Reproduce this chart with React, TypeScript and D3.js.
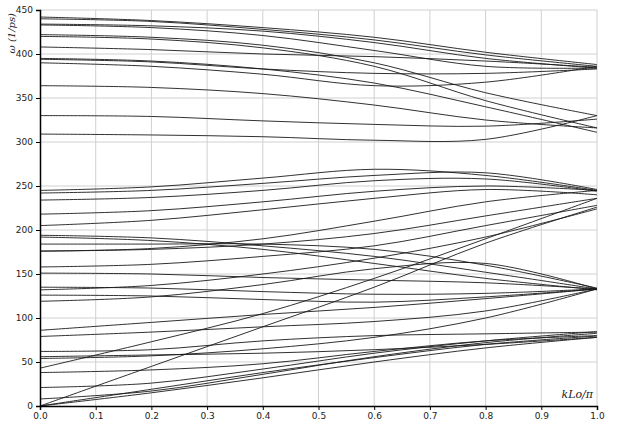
import React, { useEffect, useRef } from 'react';
import * as d3 from 'd3';

// wave number samples (k Lo / pi)
const kPoints = [0, 0.2, 0.4, 0.6, 0.8, 1.0];

// optical branches above the gap
const highBranches = [
  [442, 438, 430, 419, 402, 388],
  [440, 437, 428, 416, 399, 386],
  [434, 432, 426, 413, 395, 384],
  [433, 430, 421, 404, 386, 384],
  [422, 419, 410, 390, 356, 330],
  [420, 417, 407, 386, 347, 316],
  [408, 405, 400, 397, 392, 385],
  [395, 392, 383, 367, 340, 311],
  [394, 391, 383, 378, 378, 383],
  [390, 386, 377, 364, 368, 386],
  [364, 362, 355, 342, 325, 316],
  [330, 329, 324, 320, 318, 326],
  [309, 308, 306, 302, 303, 330]
];

// middle group of branches
const midBranches = [
  [245, 249, 259, 269, 262, 245],
  [242, 245, 253, 262, 265, 246],
  [234, 237, 245, 256, 258, 244],
  [218, 222, 232, 244, 250, 245],
  [205, 211, 223, 236, 246, 240],
  [194, 191, 182, 170, 152, 133],
  [192, 188, 178, 162, 145, 132],
  [184, 184, 184, 178, 160, 134],
  [176, 179, 190, 210, 232, 245],
  [176, 178, 184, 196, 216, 236],
  [158, 161, 170, 182, 205, 228],
  [151, 150, 146, 143, 140, 133],
  [135, 134, 130, 127, 128, 133],
  [132, 137, 150, 168, 192, 224],
  [126, 125, 121, 118, 124, 133],
  [119, 124, 138, 156, 162, 133]
];

// acoustic and low optical branches
const lowBranches = [
  [0, 15, 32, 50, 66, 78],
  [0, 19, 38, 55, 70, 79.5],
  [8, 17, 36, 56, 72, 82.6],
  [21, 26, 42, 60, 74, 84.5],
  [38, 41, 48, 62, 74, 80],
  [62, 64, 74, 80, 82, 84],
  [0, 45, 90, 135, 185, 226],
  [43, 73, 105, 145, 190, 236],
  [86, 95, 104, 112, 122, 133],
  [79, 84, 90, 96, 108, 133],
  [54, 57, 65, 78, 100, 133],
  [56, 58, 60, 64, 70, 78]
];

const xTicks = [0, 0.1, 0.2, 0.3, 0.4, 0.5, 0.6, 0.7, 0.8, 0.9, 1.0];
const yTicks = [0, 50, 100, 150, 200, 250, 300, 350, 400, 450];

const App = () => {
  const ref = useRef<SVGSVGElement>(null);

  useEffect(() => {
    const svg = d3.select(ref.current);
    svg.selectAll('*').remove();

    const x = d3.scaleLinear().domain([0, 1]).range([40, 597]);
    const y = d3.scaleLinear().domain([0, 450]).range([406, 10]);

    // grid
    const grid = svg.append('g');
    grid.selectAll('line.gx')
      .data(xTicks.slice(1))
      .enter()
      .append('line')
      .attr('x1', d => x(d)).attr('x2', d => x(d))
      .attr('y1', y(0)).attr('y2', y(450))
      .attr('stroke', '#d0d0d0')
      .attr('stroke-width', 1);
    grid.selectAll('line.gy')
      .data(yTicks.slice(1))
      .enter()
      .append('line')
      .attr('x1', x(0)).attr('x2', x(1))
      .attr('y1', d => y(d)).attr('y2', d => y(d))
      .attr('stroke', '#d0d0d0')
      .attr('stroke-width', 1);

    // branches
    const line = d3.line<number>()
      .x((d, i) => x(kPoints[i]))
      .y(d => y(d))
      .curve(d3.curveCatmullRom.alpha(0.5));

    const all = [...highBranches, ...midBranches, ...lowBranches];
    svg.append('g')
      .selectAll('path')
      .data(all)
      .enter()
      .append('path')
      .attr('d', d => line(d))
      .attr('fill', 'none')
      .attr('stroke', '#1a1a1a')
      .attr('stroke-width', 0.9);

    // axes
    const xAxis = svg.append('g')
      .attr('transform', `translate(0,${y(0)})`)
      .call(d3.axisBottom(x).tickValues(xTicks).tickFormat(d3.format('.1f')).tickSizeOuter(0).tickSize(4));
    const yAxis = svg.append('g')
      .attr('transform', `translate(${x(0)},0)`)
      .call(d3.axisLeft(y).tickValues(yTicks).tickSizeOuter(0).tickSize(4));

    [xAxis, yAxis].forEach(a => {
      a.select('.domain').attr('stroke', '#000').attr('stroke-width', 1.5);
      a.selectAll('.tick line').attr('stroke', '#000');
      a.selectAll('.tick text')
        .attr('fill', '#222')
        .style('font-family', 'DejaVu Sans')
        .style('font-size', '9px');
    });

    // labels
    svg.append('text')
      .attr('transform', `translate(15,13) rotate(-90)`)
      .attr('text-anchor', 'end')
      .style('font-family', 'DejaVu Serif')
      .style('font-style', 'italic')
      .style('font-size', '10px')
      .attr('fill', '#222')
      .text('ω (1/ps)');

    svg.append('text')
      .attr('x', 593)
      .attr('y', 398)
      .attr('text-anchor', 'end')
      .style('font-family', 'DejaVu Serif')
      .style('font-style', 'italic')
      .style('font-size', '11px')
      .attr('fill', '#222')
      .text('kLo/π');
  }, []);

  return (
    <svg ref={ref} width={624} height={424} style={{ position: 'absolute', left: 0, top: 0, background: '#fff' }} />
  );
};

export default App;
